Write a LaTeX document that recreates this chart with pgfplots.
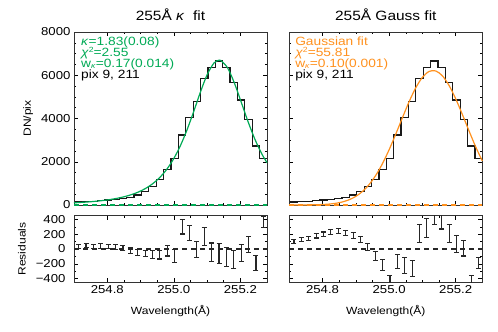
\documentclass[border=0pt]{standalone}
\usepackage{fontspec}
\setmainfont[FakeStretch=1.15]{Liberation Sans}
\usepackage{pgfplots}
\usepackage{pgfplotstable}
\pgfplotsset{compat=1.18}
\definecolor{kgreen}{RGB}{0,170,85}
\definecolor{gorange}{RGB}{255,145,30}

% observed spectrum (left bin edges, last row closes the final bin)
\pgfplotstableread{
x y
254.7029 140
254.7251 155
254.7473 170
254.7695 200
254.7917 230
254.8139 262
254.8361 293
254.8583 354
254.8805 462
254.9027 616
254.9249 847
254.9471 1190
254.9693 1650
254.9915 2160
255.0137 3237
255.0359 4050
255.0581 4777
255.0803 5858
255.1025 6350
255.1247 6660
255.1469 6350
255.1691 5673
255.1913 4855
255.2135 3961
255.2357 2728
255.2579 2160
255.2800 2160
}\spec

% kappa fit curve
\pgfplotstableread{
x y
254.7000 102
254.7094 109
254.7299 128
254.7505 152
254.7710 181
254.7916 217
254.8122 262
254.8327 319
254.8533 392
254.8738 485
254.8944 606
254.9150 765
254.9355 973
254.9561 1247
254.9766 1607
254.9972 2077
255.0178 2678
255.0383 3421
255.0589 4285
255.0794 5198
255.1000 6020
255.1206 6566
255.1360 6700
255.1411 6685
255.1617 6339
255.1822 5631
255.2028 4743
255.2234 3841
255.2439 3032
255.2645 2360
255.2800 1960
}\kfit

% Gaussian fit curve
\pgfplotstableread{
x y
254.70 0.5
254.72 1.1
254.74 2.5
254.76 5.4
254.78 11
254.80 23
254.82 43
254.84 80
254.86 143
254.88 244
254.90 399
254.92 628
254.94 949
254.96 1375
254.98 1914
255.00 2557
255.02 3280
255.04 4039
255.06 4775
255.08 5419
255.10 5903
255.12 6175
255.14 6200
255.16 5976
255.18 5530
255.20 4913
255.22 4190
255.24 3431
255.26 2696
255.28 2035
}\gfit

% residuals, kappa fit
\pgfplotstableread{
x y e
254.7140 38 27
254.7362 43 27
254.7584 38 28
254.7806 40 29
254.8028 31 30
254.8250 25 32
254.8472 10 34
254.8694 -20 37
254.8916 -45 40
254.9138 -62 45
254.9360 -78 52
254.9582 -75 60
254.9804 -22 72
255.0026 -95 85
255.0248 298 95
255.0470 218 105
255.0692 -8 112
255.0914 170 122
255.1136 -47 128
255.1358 -55 135
255.1580 -109 130
255.1802 -140 125
255.2024 -60 115
255.2246 63 106
255.2468 -193 100
255.2690 370 75
}\kres

% residuals, Gaussian fit
\pgfplotstableread{
x y e
254.7140 99 27
254.7362 128 27
254.7584 140 28
254.7806 178 29
254.8028 200 30
254.8250 227 32
254.8472 241 34
254.8694 214 37
254.8916 180 40
254.9138 130 45
254.9360 27 52
254.9582 -96 60
254.9804 -216 72
255.0026 -445 85
255.0248 -170 95
255.0470 -220 105
255.0692 -265 112
255.0914 208 122
255.1136 279 128
255.1358 470 135
255.1580 400 130
255.1802 212 125
255.2024 73 115
255.2246 12 106
255.2468 -460 100
255.2690 -189 75
}\gres

\tikzset{annot/.style={anchor=base west, inner sep=0pt, font=\fontsize{12}{12}\selectfont}}
\newcommand{\supt}[1]{\raisebox{0.3em}{\fontsize{7.5}{7.5}\selectfont #1}}
\newcommand{\subt}[1]{\raisebox{-0.12em}{\fontsize{7.5}{7.5}\selectfont #1}}

\pgfplotsset{
  every axis/.append style={
    scale only axis, width=193bp,
    anchor=south west,
    xmin=254.70, xmax=255.28,
    xtick={254.8,255.0,255.2}, minor x tick num=3,
    scaled ticks=false,
    tick align=inside,
    major tick length=4bp, minor tick length=2bp,
    every tick/.style={black, line width=0.5pt},
    axis line style={line width=0.6pt, black!80},
    tick label style={font=\fontsize{11.5}{12}\selectfont},
    /pgf/number format/assume math mode=true,
    /pgf/number format/1000 sep={},
    label style={font=\fontsize{10.5}{11}\selectfont},
  },
  toppanel/.style={
    height=173bp, ymin=0, ymax=8000,
    ytick={0,2000,4000,6000,8000}, minor y tick num=3,
    xticklabels={}, clip=false,
    title style={at={(axis description cs:0.5,1)}, anchor=base, yshift=5.3bp,
      font=\fontsize{13.5}{14}\selectfont},
    ylabel={DN/pix},
    ylabel style={at={(axis description cs:-0.238,0.5)}, anchor=center},
  },
  respanel/.style={
    height=66.6bp, ymin=-450, ymax=450,
    ytick={-400,-200,0,200,400}, minor y tick num=1,
    yticklabels={−400,−200,0,200,400},
    yticklabel style={xshift=-5bp},
    xticklabel style={/pgf/number format/.cd, fixed, fixed zerofill, precision=1},
    xlabel={Wavelength(Å)},
    xlabel style={at={(axis description cs:0.5,0)}, anchor=base, yshift=-32.2bp},
    ylabel={Residuals},
    ylabel style={at={(axis description cs:-0.2694,0.5)}, anchor=center},
  },
  errs/.style={black!85, mark=none, draw=none,
    error bars/.cd, y dir=both, y explicit, error mark=|,
    error bar style={draw=black!85, line width=1.1pt},
    error mark options={draw=black!85, line width=1.1pt, mark size=2.5bp}},
}

\begin{document}
\begin{tikzpicture}
\useasboundingbox (0,0) rectangle (498bp,332bp);

% ---- left top: kappa fit
\begin{axis}[toppanel, at={(74bp,127bp)}, title={255Å \textit{κ}\ \ fit}]
\addplot[black!90, line width=1.2pt, const plot mark left] table[x=x,y=y] {\spec};
\addplot[kgreen, line width=1.2pt, smooth] table[x=x,y=y] {\kfit};
\addplot[kgreen, line width=1.4pt, dash pattern=on 5bp off 4bp] coordinates {(254.70,0) (255.28,0)};
\node[annot, text=kgreen] at (rel axis cs:0.0363,0.922) {\textit{κ}=1.83(0.08)};
\node[annot, text=kgreen] at (rel axis cs:0.0363,0.859) {\textit{χ}\supt{2}=2.55};
\node[annot, text=kgreen] at (rel axis cs:0.0363,0.797) {w\subt{\textit{κ}}=0.17(0.014)};
\node[annot, text=black] at (rel axis cs:0.0363,0.731) {pix 9, 211};
\end{axis}

% ---- left bottom: residuals
\begin{axis}[respanel, at={(74bp,49.7bp)}]
\addplot[black!85, line width=1.3pt, dash pattern=on 5bp off 4bp] coordinates {(254.70,0) (255.28,0)};
\addplot[errs] table[x=x,y=y,y error=e] {\kres};
\end{axis}

% ---- right top: Gauss fit
\begin{axis}[toppanel, at={(289.3bp,127bp)}, title={255Å Gauss fit}, ylabel={}, yticklabels={}]
\addplot[black!90, line width=1.2pt, const plot mark left] table[x=x,y=y] {\spec};
\addplot[gorange, line width=1.2pt, smooth] table[x=x,y=y] {\gfit};
\addplot[gorange, line width=1.4pt, dash pattern=on 5bp off 4bp] coordinates {(254.70,0) (255.28,0)};
\node[annot, text=gorange] at (rel axis cs:0.03,0.922) {Gaussian fit};
\node[annot, text=gorange] at (rel axis cs:0.03,0.859) {\textit{χ}\supt{2}=55.81};
\node[annot, text=gorange] at (rel axis cs:0.03,0.797) {w\subt{\textit{κ}}=0.10(0.001)};
\node[annot, text=black] at (rel axis cs:0.03,0.731) {pix 9, 211};
\end{axis}

% ---- right bottom: residuals
\begin{axis}[respanel, at={(289.3bp,49.7bp)}, ylabel={}, yticklabels={}]
\addplot[black!85, line width=1.3pt, dash pattern=on 5bp off 4bp] coordinates {(254.70,0) (255.28,0)};
\addplot[errs] table[x=x,y=y,y error=e] {\gres};
\end{axis}
\end{tikzpicture}
\end{document}
